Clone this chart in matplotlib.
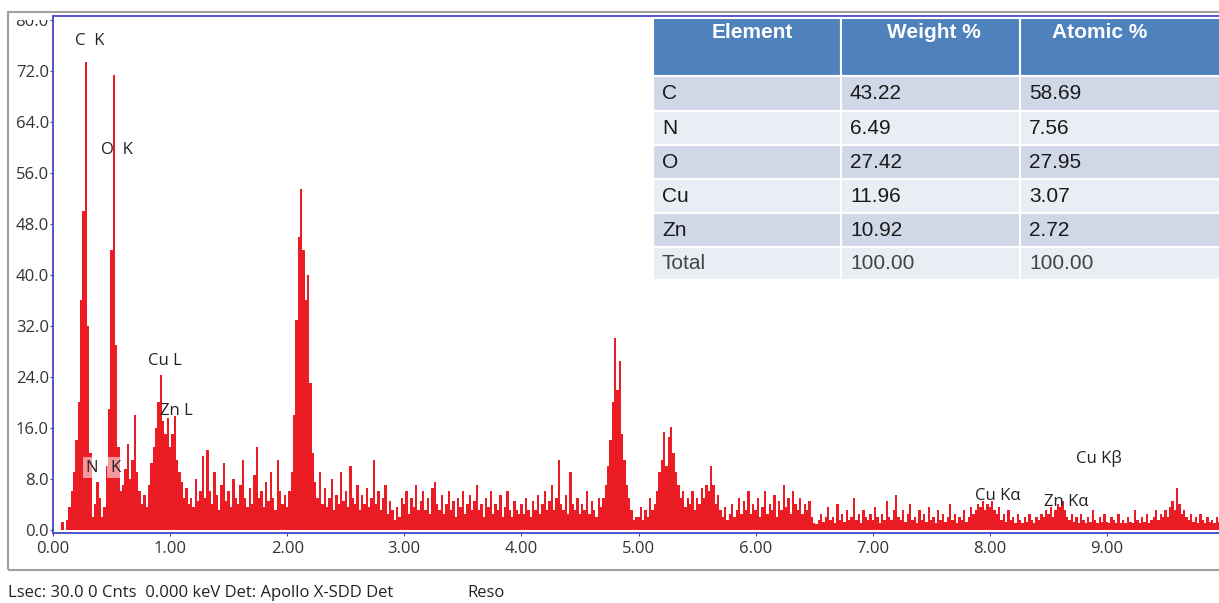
import numpy as np
import matplotlib
matplotlib.use("Agg")
import matplotlib.pyplot as plt
from matplotlib.patches import Rectangle
from matplotlib.transforms import Bbox, TransformedBbox

# EDS spectrum, 0.02 keV channels starting at 0.00 keV (one row = 0.5 keV)
counts = [
    0, 0, 0, 0, 1.2, 0, 1.5, 3.5, 6, 9, 14, 20, 36, 50, 73.5, 32, 12, 2, 4, 7.5, 5, 2, 3.5, 10, 19,
    44, 71.5, 29, 13, 6, 7, 9.5, 13.5, 8, 11, 18, 9, 6, 4, 5.5, 3.5, 7, 10.5, 13, 16, 20, 24.3, 17, 15, 17.5,
    13, 15, 17.8, 11, 9, 7.5, 5, 6.5, 4, 5, 3.5, 8, 4.5, 6, 11.5, 5, 12.5, 6, 4, 9, 5.5, 3, 7, 10.5, 4.5,
    6, 3.5, 8, 5, 4, 7, 11, 5, 3.5, 6.5, 4, 8.5, 13, 5, 6, 3.5, 7.5, 4.5, 9, 5, 3, 11, 6, 4, 5.5,
    3.5, 6, 9, 18, 33, 46, 53.5, 44, 36, 40, 23, 12, 7.5, 5, 9, 4, 6.5, 3.5, 5, 8, 3, 5.5, 4, 9, 4.5,
    6, 3.5, 10, 5, 4, 7, 3, 5.5, 4, 6.5, 3.5, 5, 11, 4, 6, 3, 5, 7, 2.5, 4.5, 3, 1.5, 3.5, 2, 5,
    4, 6, 2.5, 5, 3.5, 7, 3, 4.5, 6, 3, 5, 2.5, 6.5, 7.5, 4, 3, 5.5, 2.5, 4, 6, 3, 4.5, 2, 5, 3.5,
    6, 2.5, 4, 5.5, 3, 4.5, 7, 3, 4, 2, 5, 3.5, 6, 2.5, 4, 3, 5.5, 2, 3.5, 6, 3, 2, 4.5, 3, 2.5,
    4, 2.5, 5, 3, 2, 4.5, 3, 5.5, 2.5, 4, 6, 3, 4.5, 7, 3, 5, 11, 4, 3, 5.5, 2.5, 9, 4, 3, 5,
    2.5, 4, 3, 6, 2.5, 4.5, 3, 2, 5, 3.5, 5, 7, 10, 14, 20, 30.1, 22, 26.5, 15, 11, 7, 5, 3, 1.5, 2,
    2, 3.5, 1.5, 3, 2, 5, 3, 4, 6, 9, 11, 15.4, 10, 14.6, 16.1, 12, 9, 7, 5, 6, 3.5, 5, 4, 6, 3,
    5, 4, 6.5, 5, 7, 6, 10, 7, 4, 5.5, 3, 2, 3.5, 1.5, 2.5, 4, 2, 3, 5, 2.5, 4.5, 3, 6, 2.5, 4,
    3, 5, 2, 3.5, 6, 2.5, 4, 3, 5.5, 2, 4.5, 3, 7, 3.5, 5, 2.5, 6, 4, 3, 5, 2.5, 4, 3, 4.5, 2,
    1, 0.8, 1.5, 2.5, 1.2, 2, 3.5, 1.5, 2, 1, 4, 1.5, 2.5, 1.2, 3, 1.5, 2, 5, 1.5, 2.5, 1, 3, 2, 1.5, 2.5,
    1.5, 3.5, 2, 1, 2.5, 1.5, 4.5, 2, 1.5, 3, 5.5, 2, 1.5, 3, 1.2, 2.5, 4, 1.5, 2, 1, 3, 1.5, 2.5, 1.2, 3.5,
    1.5, 2, 1, 3, 1.5, 2.5, 1.2, 2, 4, 1.5, 2.5, 1, 2, 1.5, 3, 1.2, 2, 3.5, 2.5, 3, 4, 3.5, 4.5, 3, 4,
    3.5, 4.5, 3, 2.5, 3.5, 1.5, 2.5, 1.2, 3, 1.5, 2, 1, 2.5, 1.5, 1, 2, 1.2, 2.5, 1.5, 1, 2, 1.5, 2.5, 2, 3,
    2.5, 3.5, 2, 3, 4, 3.5, 4.5, 3, 2, 1.5, 2.5, 1.2, 2, 1, 2.5, 1.5, 1, 2, 1.2, 3, 1.5, 1, 2, 1.2, 2.5,
    1.2, 1, 2, 1.5, 1, 2.5, 1, 1.5, 1, 2, 1.2, 1, 3, 1.5, 1, 2, 1.2, 2.5, 1, 1.5, 2, 3, 1.5, 2.5, 2,
    3, 2, 3.5, 4.5, 3, 6.5, 4, 2.5, 3, 2, 1.5, 2.5, 1.2, 2, 1, 2.5, 1.5, 1, 2, 1.2, 1.5, 1, 2, 1.2, 1.5,
]
energy = np.arange(len(counts)) * 0.02

peak_labels = ["C  K", "O  K", "Cu L", "Zn L", "Cu K\u03b1", "Zn K\u03b1", "Cu K\u03b2"]
peak_pos = [(0.31, 76.7), (0.55, 59.6), (0.96, 26.5), (1.05, 18.6),
            (8.07, 5.3), (8.65, 4.3), (8.93, 11.2)]

elements = ["C", "N", "O", "Cu", "Zn", "Total"]
weight = ["43.22", "6.49", "27.42", "11.96", "10.92", "100.00"]
atomic = ["58.69", "7.56", "27.95", "3.07", "2.72", "100.00"]
headers = ["Element", "Weight %", "Atomic %"]

W, H = 1219, 603
fig = plt.figure(figsize=(W / 100, H / 100), dpi=100)


def fx(x):
    return x / W


def fy(y):
    return 1 - y / H


blue = "#4646c8"
ax = fig.add_axes([fx(53), fy(533), 1 - fx(53), (533 - 16) / H])
ax.set_facecolor("none")
ax.bar(energy, counts, width=0.02, color="#ec1c24", linewidth=0)
ax.set_xlim(0, 9.957)
ax.set_ylim(-0.55, 80.7)

for s in ["left", "top", "bottom"]:
    ax.spines[s].set_color(blue)
    ax.spines[s].set_linewidth(1.3)
ax.spines["right"].set_visible(False)

ax.set_xticks(np.arange(0, 10))
ax.set_xticklabels(["%.2f" % v for v in range(10)])
ax.set_yticks(np.arange(0, 81, 8))
ax.set_yticklabels(["%.1f" % v for v in range(0, 81, 8)])
ax.tick_params(axis="both", colors=blue, labelcolor="#333333", labelsize=12,
               length=2, pad=1)
ax.tick_params(axis="x", pad=4)
for lbl in ax.get_xticklabels() + ax.get_yticklabels():
    lbl.set_family("Open Sans")
clip = TransformedBbox(Bbox([[0, 0], [1, fy(20)]]), fig.transFigure)
for lbl in ax.get_yticklabels():
    lbl.set_clip_box(clip)
    lbl.set_clip_on(True)

for txt, (xv, yv) in zip(peak_labels, peak_pos):
    ax.text(xv, yv, txt, ha="center", va="center", fontsize=12,
            family="Open Sans", color="#222222")
for txt, xv in [("N", 0.33), ("K", 0.53)]:
    ax.text(xv, 9.7, txt, ha="center", va="center", fontsize=12,
            family="Open Sans", color="#222222",
            bbox=dict(boxstyle="square,pad=0.15", fc="white", ec="none", alpha=0.55))

# outer grey frame
fig.patches.append(Rectangle((fx(8), fy(570)), 1.2, (570 - 12) / H,
                             transform=fig.transFigure, fill=False,
                             edgecolor="#a0a0a0", linewidth=1.5))

fig.text(fx(8), fy(593), "Lsec: 30.0 0 Cnts  0.000 keV Det: Apollo X-SDD Det",
         fontsize=12, family="Open Sans", color="#222222", va="center")
fig.text(fx(467), fy(593), "Reso", fontsize=12, family="Open Sans",
         color="#222222", va="center")

# element table
col_x = [653, 841, 1020, 1232]
row_y = [18, 76, 111, 145, 179, 213, 247, 280]
head_cx = [752, 934, 1100]
fills = ["#d0d8e8", "#e9edf4"]
for c in range(3):
    fig.patches.append(Rectangle((fx(col_x[c]), fy(row_y[1])),
                                 fx(col_x[c + 1] - col_x[c]), (row_y[1] - row_y[0]) / H,
                                 transform=fig.transFigure, facecolor="#4f81bd",
                                 edgecolor="white", linewidth=1.5, zorder=5))
    fig.text(fx(head_cx[c]), fy(32), headers[c], ha="center", va="center",
             fontsize=15, fontweight="bold", family="Liberation Sans",
             color="white", zorder=6)
for r, row in enumerate(zip(elements, weight, atomic)):
    y0, y1 = row_y[r + 1], row_y[r + 2]
    for c in range(3):
        fig.patches.append(Rectangle((fx(col_x[c]), fy(y1)),
                                     fx(col_x[c + 1] - col_x[c]), (y1 - y0) / H,
                                     transform=fig.transFigure, facecolor=fills[r % 2],
                                     edgecolor="white", linewidth=1.5, zorder=5))
        fig.text(fx(col_x[c] + 9), fy((y0 + y1) / 2), row[c], ha="left", va="center",
                 fontsize=15, family="Liberation Sans",
                 color="#444444" if r == 5 else "#1a1a1a", zorder=6)

fig.savefig("out.png", dpi=100)
